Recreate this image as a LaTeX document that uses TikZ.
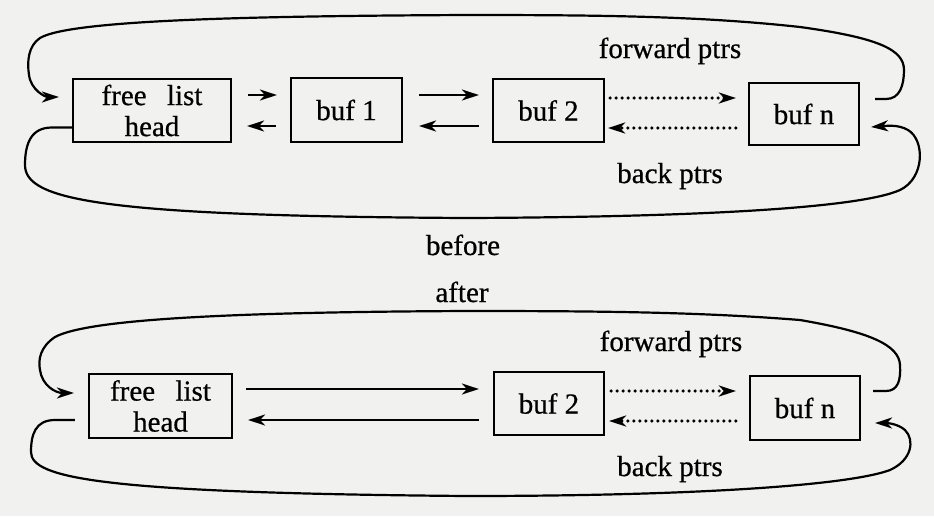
\documentclass[tikz,border=0pt]{standalone}
\usepackage{fontspec}
\setmainfont{Liberation Serif}
\newfontfamily\diagfont{Liberation Serif}[FakeBold=0.6]
\usetikzlibrary{arrows.meta}
\definecolor{bg}{RGB}{241,241,240}
\newcommand{\fsz}{\diagfont\fontsize{14.5}{15.5}\selectfont}
\tikzset{
  box/.style={draw, line width=1.1pt, inner sep=0pt, align=center, font=\fsz},
  lbl/.style={anchor=base, inner sep=0pt, font=\fsz},
  arr/.style={line width=1.1pt, -{Stealth[length=8.5pt,width=5.5pt,inset=2.5pt]}},
  dots/.style={arr, dash pattern=on 0pt off 3pt, line cap=round, line width=1.8pt},
}
\begin{document}
\begin{tikzpicture}[x=0.5pt,y=-0.5pt]
\fill[bg] (0,0) rectangle (934,516);
\useasboundingbox (0,0) rectangle (934,516);

% ---------- before ----------
\node[box, minimum width=79pt, minimum height=31.5pt] (head) at (152,110.5) {free\hspace{0.7em}list\\head};
\node[box, minimum width=55.5pt, minimum height=32pt] (buf1) at (346.5,110) {buf 1};
\node[box, minimum width=55.5pt, minimum height=31.5pt] (buf2) at (548.5,110.5) {buf 2};
\node[box, minimum width=55pt, minimum height=31pt] (bufn) at (804,114) {buf n};

\draw[arr] ([shift={(16,-15.5)}]head.east) -- ([shift={(-13,-15)}]buf1.west);
\draw[arr] ([shift={(-14,16)}]buf1.west) -- ([shift={(15,15.5)}]head.east);
\draw[arr] ([shift={(16,-15)}]buf1.east) -- ([shift={(-13,-15.5)}]buf2.west);
\draw[arr] ([shift={(-13,15.5)}]buf2.west) -- ([shift={(16,16)}]buf1.east);
\draw[dots] ([shift={(5,-12.5)}]buf2.east) -- ([shift={(-12,-16)}]bufn.west);
\draw[dots] ([shift={(-12,14)}]bufn.west) -- ([shift={(3,17.5)}]buf2.east);

\draw[arr] ([shift={(15,-15)}]bufn.east) -- (886,99)
  .. controls (900,99) and (904,85) .. (904,70)
  .. controls (904,50) and (880,38) .. (800,27)
  .. controls (700,16) and (600,15) .. (467,15)
  .. controls (250,16) and (70,20) .. (40,38)
  .. controls (28,46) and (27,62) .. (29,75)
  .. controls (31,90) and (45,97) .. ([shift={(-13,-13.5)}]head.west);
\draw[arr] ([shift={(0,17)}]head.west) -- (52,127.5)
  .. controls (32,127.5) and (25,142) .. (25,165)
  .. controls (25,200) and (100,216) .. (467,218)
  .. controls (700,217) and (860,208) .. (900,190)
  .. controls (925,178) and (925,140) .. (908,130)
  .. controls (898,124) and (885,126) .. ([shift={(11,13)}]bufn.east);

\node[lbl] (fwd1) at (670,58) {forward ptrs};
\node[lbl] (back1) at (670,183) {back ptrs};
\node[lbl] (before) at (463,255) {before};
\node[lbl] (after) at (462,302) {after};

% ---------- after ----------
\node[box, minimum width=71.5pt, minimum height=32pt] (headb) at (160.5,406) {free\hspace{0.7em}list\\head};
\node[box, minimum width=55pt, minimum height=31.5pt] (buf2b) at (549,403.5) {buf 2};
\node[box, minimum width=55pt, minimum height=32pt] (bufnb) at (805,408) {buf n};

\draw[arr] ([shift={(13,-17)}]headb.east) -- ([shift={(-14,-14.5)}]buf2b.west);
\draw[arr] ([shift={(-14,16.5)}]buf2b.west) -- ([shift={(15,14)}]headb.east);
\draw[dots] ([shift={(6,-12.5)}]buf2b.east) -- ([shift={(-13,-17)}]bufnb.west);
\draw[dots] ([shift={(-13,13)}]bufnb.west) -- ([shift={(4,17.5)}]buf2b.east);

\draw[arr] ([shift={(12,-17)}]bufnb.east) -- (886,391)
  .. controls (898,391) and (901,380) .. (900,365)
  .. controls (899,345) and (870,332) .. (800,320)
  .. controls (700,312) and (600,311) .. (467,311)
  .. controls (250,312) and (90,318) .. (55,337)
  .. controls (40,347) and (38,360) .. (40,370)
  .. controls (42,385) and (55,393) .. ([shift={(-14,-13)}]headb.west);
\draw[arr] ([shift={(-13,14)}]headb.west) -- (55,420)
  .. controls (35,420) and (31,435) .. (31,452)
  .. controls (31,478) and (100,493) .. (467,496)
  .. controls (700,496) and (850,485) .. (890,470)
  .. controls (912,460) and (915,440) .. (905,430)
  .. controls (897,423) and (885,423) .. ([shift={(14,15)}]bufnb.east);

\node[lbl] (fwd2) at (671,351) {forward ptrs};
\node[lbl] (back2) at (670,476) {back ptrs};
\end{tikzpicture}
\end{document}
